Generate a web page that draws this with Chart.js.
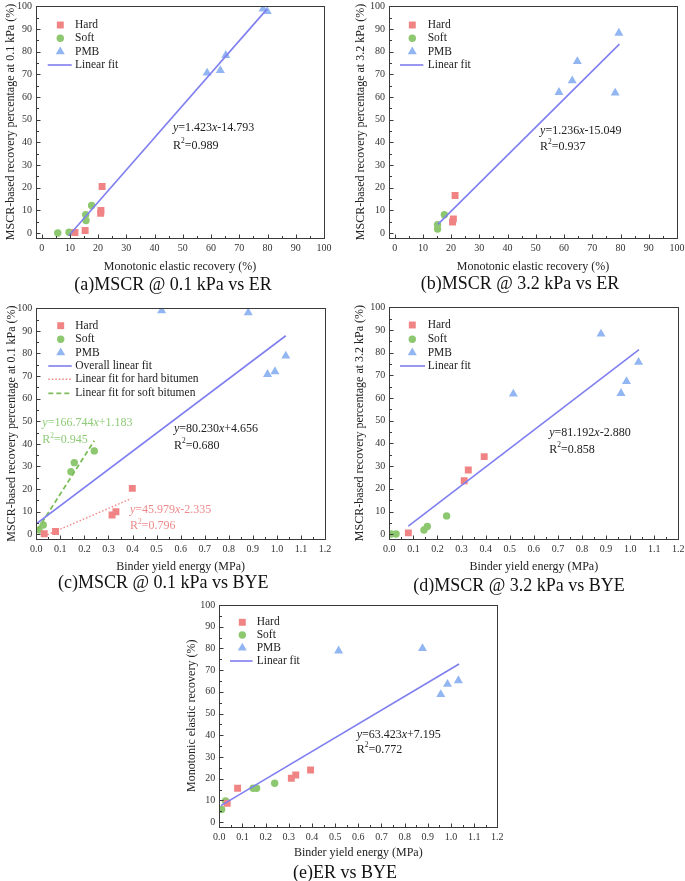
<!DOCTYPE html>
<html>
<head>
<meta charset="utf-8">
<script src="https://cdn.jsdelivr.net/npm/chart.js@4.4.0/dist/chart.umd.min.js"></script>
<style>
html, body { margin: 0; padding: 0; background: #fff; }
#fig { position: relative; width: 685px; height: 881px; overflow: hidden; }
#fig canvas { position: absolute; }
</style>
</head>
<body>
<div id="fig"></div>
<script>
// tick labels
var pctTicks = [0, 10, 20, 30, 40, 50, 60, 70, 80, 90, 100];
var byeTicks = [0, 0.1, 0.2, 0.3, 0.4, 0.5, 0.6, 0.7, 0.8, 0.9, 1.0, 1.1, 1.2];

// (a) MSCR @ 0.1 kPa vs ER
var aHardER = [11.8, 15.4, 20.9, 21.0, 21.4];
var aHardR01 = [0.3, 1.2, 8.8, 10.0, 20.6];
var aSoftER = [5.7, 9.7, 15.6, 15.7, 17.7];
var aSoftR01 = [0.1, 0.4, 8.1, 5.6, 12.2];
var aPmbER = [58.6, 63.3, 65.2, 78.4, 79.9];
var aPmbR01 = [70.6, 71.7, 78.4, 98.9, 97.8];
var aFitCoef = [1.423, -14.793];
var aFitSpan = [9.6, 79.8];

// (b) MSCR @ 3.2 kPa vs ER
var bHardER = [20.5, 20.8, 21.4];
var bHardR32 = [4.9, 6.3, 16.6];
var bSoftER = [15.2, 15.2, 17.6];
var bSoftR32 = [1.8, 3.7, 8.1];
var bPmbER = [58.2, 62.9, 64.7, 78.1, 79.4];
var bPmbR32 = [62.1, 67.2, 75.7, 61.8, 88.2];
var bFitCoef = [1.236, -15.049];
var bFitSpan = [15.3, 79.6];

// (c) MSCR @ 0.1 kPa vs BYE
var cHardBYE = [0.033, 0.080, 0.315, 0.331, 0.399];
var cHardR01 = [0.2, 1.2, 8.5, 10.0, 20.3];
var cSoftBYE = [0.011, 0.029, 0.144, 0.158, 0.241];
var cSoftR01 = [1.9, 4.1, 27.7, 31.7, 36.9];
var cPmbBYE = [0.521, 0.881, 0.961, 0.992, 1.037];
var cPmbR01 = [99.0, 98.1, 70.8, 72.0, 78.9];
var cFitCoef = [80.230, 4.656];
var cFitSpan = [0.0, 1.037];
var cHardFitCoef = [45.979, -2.335];
var cHardFitSpan = [0.033, 0.395];
var cSoftFitCoef = [166.744, 1.183];
var cSoftFitSpan = [0.005, 0.241];

// (d) MSCR @ 3.2 kPa vs BYE
var dHardBYE = [0.079, 0.311, 0.328, 0.394];
var dHardR32 = [0.6, 23.6, 28.3, 34.2];
var dSoftBYE = [0.007, 0.028, 0.144, 0.158, 0.238];
var dSoftR32 = [0.1, 0.1, 1.9, 3.4, 8.1];
var dPmbBYE = [0.515, 0.879, 0.962, 0.985, 1.035];
var dPmbR32 = [61.8, 88.3, 62.1, 67.3, 75.8];
var dFitCoef = [81.192, -2.880];
var dFitSpan = [0.079, 1.037];

// (e) ER vs BYE
var eHardBYE = [0.034, 0.079, 0.311, 0.330, 0.394];
var eHardER = [8.7, 15.6, 20.2, 21.7, 24.0];
var eSoftBYE = [0.010, 0.027, 0.146, 0.161, 0.239];
var eSoftER = [5.8, 9.8, 15.6, 15.6, 17.9];
var ePmbBYE = [0.515, 0.877, 0.956, 0.985, 1.032];
var ePmbER = [78.9, 80.0, 58.8, 63.5, 65.2];
var eFitCoef = [63.423, 7.195];
var eFitSpan = [0.007, 1.035];

var SERIF = "'Liberation Serif', 'Times New Roman', serif";
var HARD = { shape: 'rect', r: 4.9, color: '#F08484' };
var SOFT = { shape: 'circle', r: 3.7, color: '#8DC870' };
var PMB = { shape: 'triangle', r: 5.2, color: '#92B6F2' };
var FIT = { color: '#7F7FF0', width: 1.6, dash: [] };
var HFIT = { color: '#F08484', width: 1.4, dash: [1.5, 2] };
var SFIT = { color: '#7DBE5A', width: 1.8, dash: [5, 3] };
var INK = '#222';
var RED_TXT = '#EE8A8A';
var GREEN_TXT = '#8ECB76';

function pts(xs, ys) {
  return xs.map(function (x, i) { return { x: x, y: ys[i] }; });
}
function fitPts(coef, span) {
  return span.map(function (x) { return { x: x, y: coef[0] * x + coef[1] }; });
}
function marks(label, data, st) {
  return { label: label, data: data, pointStyle: st.shape, pointRadius: st.r, pointHoverRadius: st.r,
    backgroundColor: st.color, borderColor: st.color, borderWidth: 0, showLine: false, order: 1 };
}
function fitLine(label, data, st) {
  return { label: label, data: data, showLine: true, pointRadius: 0, borderColor: st.color,
    borderWidth: st.width, borderDash: st.dash, fill: false, order: 0 };
}

// box border + inward major/minor ticks
var framePlugin = {
  id: 'frame',
  afterDraw: function (chart) {
    var a = chart.chartArea, ctx = chart.ctx;
    var xs = chart.scales.x, ys = chart.scales.y;
    ctx.save();
    ctx.strokeStyle = '#3a3a3a';
    ctx.lineWidth = 1;
    var l = Math.round(a.left) + 0.5, t = Math.round(a.top) + 0.5;
    var r = Math.round(a.right) + 0.5, b = Math.round(a.bottom) + 0.5;
    ctx.strokeRect(l, t, r - l, b - t);
    ctx.beginPath();
    var xv = xs.ticks.map(function (k) { return k.value; });
    xv.forEach(function (v, i) {
      var px = Math.round(xs.getPixelForValue(v)) + 0.5;
      ctx.moveTo(px, b); ctx.lineTo(px, b - 4);
      if (i < xv.length - 1) {
        var pm = Math.round(xs.getPixelForValue((v + xv[i + 1]) / 2)) + 0.5;
        ctx.moveTo(pm, b); ctx.lineTo(pm, b - 2.5);
      }
    });
    var yv = ys.ticks.map(function (k) { return k.value; });
    yv.forEach(function (v, i) {
      var py = Math.round(ys.getPixelForValue(v)) + 0.5;
      ctx.moveTo(l, py); ctx.lineTo(l + 4, py);
      if (i < yv.length - 1) {
        var pm = Math.round(ys.getPixelForValue((v + yv[i + 1]) / 2)) + 0.5;
        ctx.moveTo(l, pm); ctx.lineTo(l + 2.5, pm);
      }
    });
    ctx.stroke();
    ctx.restore();
  }
};

// legend drawn inside the plot, top-left
var innerLegend = {
  id: 'innerLegend',
  afterDraw: function (chart, args, opts) {
    if (!opts.rows) return;
    var a = chart.chartArea, ctx = chart.ctx;
    ctx.save();
    ctx.font = '11.5px ' + SERIF;
    ctx.textBaseline = 'middle';
    ctx.fillStyle = INK;
    opts.rows.forEach(function (row, i) {
      var y = a.top + opts.dy[i];
      if (row.line) {
        ctx.save();
        ctx.strokeStyle = row.line.color;
        ctx.lineWidth = row.line.width;
        ctx.setLineDash(row.line.dash);
        ctx.beginPath();
        ctx.moveTo(a.left + opts.line[0], y);
        ctx.lineTo(a.left + opts.line[1], y);
        ctx.stroke();
        ctx.restore();
      } else {
        ctx.save();
        ctx.fillStyle = row.mark.color;
        ctx.strokeStyle = row.mark.color;
        ctx.lineWidth = 0;
        Chart.helpers.drawPoint(ctx, { pointStyle: row.mark.shape, radius: row.mark.r, rotation: 0, borderWidth: 0 },
          a.left + opts.mx, y);
        ctx.restore();
      }
      ctx.fillText(row.text, a.left + opts.tx, y);
    });
    ctx.restore();
  }
};

// fit equations: x / y in italics, ² raised
function richText(ctx, str, x, y, size) {
  var i = 0;
  while (i < str.length) {
    var ch = str[i];
    if (ch === 'x' || ch === 'y') {
      ctx.font = 'italic ' + size + 'px ' + SERIF;
      ctx.fillText(ch, x, y);
      x += ctx.measureText(ch).width;
      i++;
    } else if (ch === '\u00B2') {
      ctx.font = (size * 0.62) + 'px ' + SERIF;
      ctx.fillText('2', x, y - size * 0.35);
      x += ctx.measureText('2').width;
      i++;
    } else {
      var j = i;
      while (j < str.length && 'xy\u00B2'.indexOf(str[j]) < 0) j++;
      var seg = str.slice(i, j);
      ctx.font = size + 'px ' + SERIF;
      ctx.fillText(seg, x, y);
      x += ctx.measureText(seg).width;
      i = j;
    }
  }
}
var fitNotes = {
  id: 'fitNotes',
  afterDraw: function (chart, args, opts) {
    if (!opts.items) return;
    var ctx = chart.ctx, xs = chart.scales.x, ys = chart.scales.y;
    ctx.save();
    ctx.textBaseline = 'middle';
    opts.items.forEach(function (n) {
      ctx.fillStyle = n.color;
      var px = xs.getPixelForValue(n.x);
      richText(ctx, n.eq, px, ys.getPixelForValue(n.y[0]), 12);
      richText(ctx, n.r2, px, ys.getPixelForValue(n.y[1]), 12);
    });
    ctx.restore();
  }
};

var caption = {
  id: 'caption',
  afterDraw: function (chart, args, opts) {
    if (!opts.text) return;
    var ctx = chart.ctx;
    ctx.save();
    ctx.font = '18px ' + SERIF;
    ctx.fillStyle = '#111';
    ctx.textAlign = 'center';
    ctx.textBaseline = 'middle';
    ctx.fillText(opts.text, opts.x, opts.y);
    ctx.restore();
  }
};

var fig = document.getElementById('fig');

function fixedTicks(list) {
  return function (scale) { scale.ticks = list.map(function (v) { return { value: v }; }); };
}

function panel(p) {
  var box = p.box;
  var c = document.createElement('canvas');
  c.width = box[2]; c.height = box[3];
  c.style.left = box[0] + 'px'; c.style.top = box[1] + 'px';
  c.style.width = box[2] + 'px'; c.style.height = box[3] + 'px';
  fig.appendChild(c);

  var L = p.area[0] - box[0], T = p.area[1] - box[1];
  var R = p.area[2] - box[0], B = p.area[3] - box[1];
  var lh = 12 * 1.2;
  var xH = (p.xTitleY - box[1]) + lh / 2 - B;
  var yTitlePad = (p.yTitleX - box[0]) - lh / 2;
  var axisFont = { family: SERIF, size: 12 };
  var tickFont = { family: SERIF, size: 10 };

  return new Chart(c, {
    type: 'scatter',
    data: { datasets: p.datasets },
    options: {
      responsive: false,
      animation: false,
      events: [],
      layout: { padding: { left: 0, top: T, right: box[2] - R, bottom: box[3] - B - xH } },
      plugins: {
        legend: { display: false },
        tooltip: { enabled: false },
        innerLegend: p.legend,
        fitNotes: { items: p.notes },
        caption: { text: p.caption[0], x: p.caption[1] - box[0], y: p.caption[2] - box[1] }
      },
      scales: {
        x: {
          type: 'linear', position: 'bottom', min: p.x.min, max: p.x.max,
          afterBuildTicks: fixedTicks(p.x.ticks),
          afterFit: function (s) { s.height = xH; s.paddingLeft = 0; s.paddingRight = 0; },
          grid: { display: false, drawTicks: false },
          border: { display: false },
          ticks: {
            font: tickFont, color: '#333', padding: 5, autoSkip: false, maxRotation: 0, minRotation: 0,
            callback: function (v) { return p.x.dec ? Number(v).toFixed(p.x.dec) : String(v); }
          },
          title: { display: true, text: p.x.title, font: axisFont, color: INK, padding: 0 }
        },
        y: {
          type: 'linear', position: 'left', min: p.y.min, max: p.y.max,
          afterBuildTicks: fixedTicks(p.y.ticks),
          afterFit: function (s) { s.width = L; s.paddingTop = 0; s.paddingBottom = 0; },
          grid: { display: false, drawTicks: false },
          border: { display: false },
          ticks: { font: tickFont, color: '#333', padding: 4, autoSkip: false },
          title: { display: true, text: p.y.title, font: axisFont, color: INK, padding: { top: yTitlePad, bottom: 0 } }
        }
      }
    },
    plugins: [framePlugin, innerLegend, fitNotes, caption]
  });
}

var pctAxis = function (title) { return { min: -2, max: 100, ticks: pctTicks, title: title }; };
var byeAxis = { min: 0, max: 1.2, ticks: byeTicks, dec: 1, title: 'Binder yield energy (MPa)' };
var erAxis = { min: -2, max: 100, ticks: pctTicks, title: 'Monotonic elastic recovery (%)' };

function basicLegend(dy, mx, line, tx) {
  return {
    rows: [
      { mark: HARD, text: 'Hard' },
      { mark: SOFT, text: 'Soft' },
      { mark: PMB, text: 'PMB' },
      { line: FIT, text: 'Linear fit' }
    ],
    dy: dy, mx: mx, line: line, tx: tx
  };
}

panel({
  box: [0, 0, 345, 298], area: [36, 6.3, 324, 237.7],
  xTitleY: 266.7, yTitleX: 10.7, caption: ['(a)MSCR @ 0.1 kPa vs ER', 173, 285],
  x: erAxis, y: pctAxis('MSCR-based recovery percentage at 0.1 kPa (%)'),
  datasets: [
    fitLine('Linear fit', fitPts(aFitCoef, aFitSpan), FIT),
    marks('Hard', pts(aHardER, aHardR01), HARD),
    marks('Soft', pts(aSoftER, aSoftR01), SOFT),
    marks('PMB', pts(aPmbER, aPmbR01), PMB)
  ],
  legend: basicLegend([18.7, 32, 45.4, 58.7], 24.3, [11.7, 35.7], 39),
  notes: [{ x: 46.5, y: [46.3, 38.7], eq: 'y=1.423x-14.793', r2: 'R\u00B2=0.989', color: INK }]
});

panel({
  box: [345, 0, 340, 298], area: [389, 6.3, 677, 237.7],
  xTitleY: 266.7, yTitleX: 360.7, caption: ['(b)MSCR @ 3.2 kPa vs ER', 520, 284],
  x: erAxis, y: pctAxis('MSCR-based recovery percentage at 3.2 kPa (%)'),
  datasets: [
    fitLine('Linear fit', fitPts(bFitCoef, bFitSpan), FIT),
    marks('Hard', pts(bHardER, bHardR32), HARD),
    marks('Soft', pts(bSoftER, bSoftR32), SOFT),
    marks('PMB', pts(bPmbER, bPmbR32), PMB)
  ],
  legend: basicLegend([18.7, 32, 45.4, 58.7], 23.3, [11, 34.3], 38.7),
  notes: [{ x: 51.5, y: [45.1, 38.1], eq: 'y=1.236x-15.049', r2: 'R\u00B2=0.937', color: INK }]
});

panel({
  box: [0, 296, 345, 302], area: [36.3, 308.3, 325, 538.8],
  xTitleY: 566.7, yTitleX: 11.7, caption: ['(c)MSCR @ 0.1 kPa vs BYE', 163.3, 583.3],
  x: byeAxis, y: pctAxis('MSCR-based recovery percentage at 0.1 kPa (%)'),
  datasets: [
    fitLine('Overall linear fit', fitPts(cFitCoef, cFitSpan), FIT),
    fitLine('Linear fit for hard bitumen', fitPts(cHardFitCoef, cHardFitSpan), HFIT),
    fitLine('Linear fit for soft bitumen', fitPts(cSoftFitCoef, cSoftFitSpan), SFIT),
    marks('Hard', pts(cHardBYE, cHardR01), HARD),
    marks('Soft', pts(cSoftBYE, cSoftR01), SOFT),
    marks('PMB', pts(cPmbBYE, cPmbR01), PMB)
  ],
  legend: {
    rows: [
      { mark: HARD, text: 'Hard' },
      { mark: SOFT, text: 'Soft' },
      { mark: PMB, text: 'PMB' },
      { line: FIT, text: 'Overall linear fit' },
      { line: HFIT, text: 'Linear fit for hard bitumen' },
      { line: SFIT, text: 'Linear fit for soft bitumen' }
    ],
    dy: [17.4, 31, 44.4, 57.7, 71, 85], mx: 24.4, line: [12, 35.4], tx: 39
  },
  notes: [
    { x: 0.025, y: [49.1, 41.7], eq: 'y=166.744x+1.183', r2: 'R\u00B2=0.945', color: GREEN_TXT },
    { x: 0.389, y: [10.8, 3.7], eq: 'y=45.979x-2.335', r2: 'R\u00B2=0.796', color: RED_TXT },
    { x: 0.572, y: [46.5, 39.2], eq: 'y=80.230x+4.656', r2: 'R\u00B2=0.680', color: INK }
  ]
});

panel({
  box: [345, 296, 340, 302], area: [389.3, 307.3, 678.3, 538.8],
  xTitleY: 566.7, yTitleX: 360, caption: ['(d)MSCR @ 3.2 kPa vs BYE', 519, 586.7],
  x: byeAxis, y: pctAxis('MSCR-based recovery percentage at 3.2 kPa (%)'),
  datasets: [
    fitLine('Linear fit', fitPts(dFitCoef, dFitSpan), FIT),
    marks('Hard', pts(dHardBYE, dHardR32), HARD),
    marks('Soft', pts(dSoftBYE, dSoftR32), SOFT),
    marks('PMB', pts(dPmbBYE, dPmbR32), PMB)
  ],
  legend: basicLegend([17.7, 32, 45.4, 58.7], 23, [10.7, 35.7], 38.4),
  notes: [{ x: 0.664, y: [44.5, 37.4], eq: 'y=81.192x-2.880', r2: 'R\u00B2=0.858', color: INK }]
});

panel({
  box: [170, 590, 345, 291], area: [219.3, 605, 497.3, 826.5],
  xTitleY: 853.3, yTitleX: 191.7, caption: ['(e)ER vs BYE', 345, 873.3],
  x: byeAxis, y: pctAxis('Monotonic elastic recovery (%)'),
  datasets: [
    fitLine('Linear fit', fitPts(eFitCoef, eFitSpan), FIT),
    marks('Hard', pts(eHardBYE, eHardER), HARD),
    marks('Soft', pts(eSoftBYE, eSoftER), SOFT),
    marks('PMB', pts(ePmbBYE, ePmbER), PMB)
  ],
  legend: basicLegend([17.3, 30, 43, 56], 23, [10.7, 33.3], 37.4),
  notes: [{ x: 0.593, y: [40.1, 33.5], eq: 'y=63.423x+7.195', r2: 'R\u00B2=0.772', color: INK }]
});
</script>
</body>
</html>
